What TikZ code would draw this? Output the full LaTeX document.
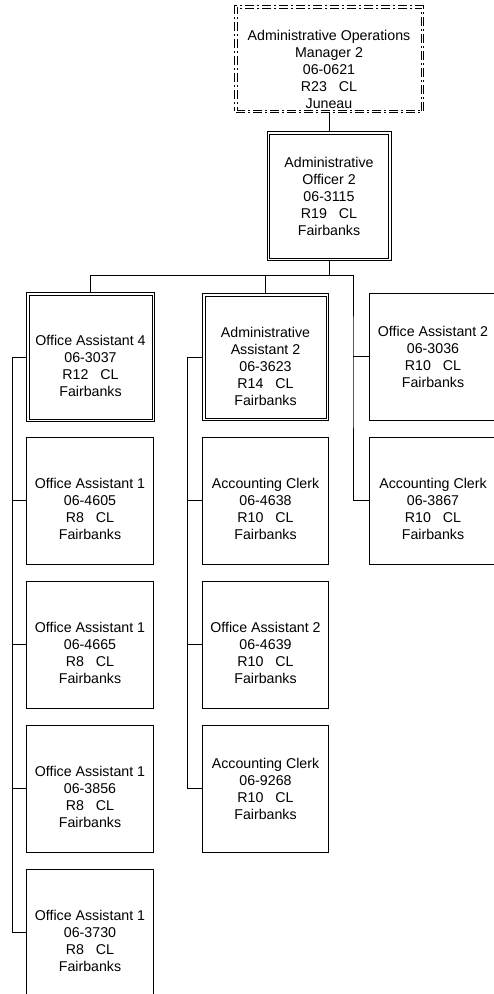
\documentclass[tikz,border=0pt]{standalone}
\usepackage{fontspec}
\setmainfont{Liberation Sans}
\usetikzlibrary{positioning}
\tikzset{
	post/.style={draw, line width=1pt, align=center, inner sep=0pt,
		minimum width=127pt, minimum height=127pt,
		font=\fontsize{14.2pt}{17pt}\selectfont, text height=#1},
	post/.default=77.4pt,
	lead/.style={post=#1, double, double distance=1.5pt},
	lead/.default=79.4pt,
	link/.style={line width=1pt}
}
\begin{document}
\begin{tikzpicture}[x=1pt, y=-1pt, node distance=16pt]
	\useasboundingbox (0,0) rectangle (493,994);
	
	\node [lead=98.4pt, dash pattern=on 9pt off 3pt on 2pt off 3pt,
		minimum width=186.5pt, minimum height=104.5pt] (mgr) at (329,59)
		{Administrative Operations\\Manager 2\\06-0621\\R23\ \ \ CL\\Juneau};
	\node [lead=78.4pt, minimum width=121.5pt, minimum height=126.5pt] (ofc) at (329,196)
		{Administrative\\Officer 2\\06-3115\\R19\ \ \ CL\\Fairbanks};
	
	\node [lead, minimum width=125.5pt, minimum height=126.5pt] (oa4) at (90.5,357)
		{Office Assistant 4\\06-3037\\R12\ \ \ CL\\Fairbanks};
	\node [post] (oa1a) at (90,500.5) {Office Assistant 1\\06-4605\\R8\ \ \ CL\\Fairbanks};
	\node [post, below=of oa1a] (oa1b) {Office Assistant 1\\06-4665\\R8\ \ \ CL\\Fairbanks};
	\node [post, below=of oa1b] (oa1c) {Office Assistant 1\\06-3856\\R8\ \ \ CL\\Fairbanks};
	\node [post, below=of oa1c] (oa1d) {Office Assistant 1\\06-3730\\R8\ \ \ CL\\Fairbanks};
	
	\node [lead=96.4pt, minimum width=123.5pt, minimum height=124.5pt] (aa2) at (265.5,357)
		{Administrative\\Assistant 2\\06-3623\\R14\ \ \ CL\\Fairbanks};
	\node [post, minimum width=126pt] (aca) at (265.5,500.5) {Accounting Clerk\\06-4638\\R10\ \ \ CL\\Fairbanks};
	\node [post, minimum width=126pt, below=of aca] (oa2m) {Office Assistant 2\\06-4639\\R10\ \ \ CL\\Fairbanks};
	\node [post=61.4pt, minimum width=126pt, below=of oa2m] (acb) {Accounting Clerk\\06-9268\\R10\ \ \ CL\\Fairbanks};
	
	\node [post=61.4pt] (oa2r) at (433,356.5) {Office Assistant 2\\06-3036\\R10\ \ \ CL\\Fairbanks};
	\node [post] (acr) at (433,500.5) {Accounting Clerk\\06-3867\\R10\ \ \ CL\\Fairbanks};
	
	\draw [link] (mgr) -- (ofc);
	\draw [link] (ofc.south) -- ++(0,16) coordinate (bus);
	\draw [link] (oa4.north) |- (bus);
	\draw [link] (aa2.north) |- (bus);
	\path (oa2r.west) ++(-16,0) coordinate (rsp);
	\draw [link] (bus) -| (rsp) |- (acr.west);
	\draw [link] (rsp) -- (oa2r.west);
	
	\path (oa4.west) ++(-15,0) coordinate (lsp);
	\draw [link] (oa4.west) -- (lsp) |- (oa1d.west);
	\foreach \n in {oa1a,oa1b,oa1c}
		\draw [link] (\n.west) -- (\n.west -| lsp);
	
	\path (aa2.west) ++(-16,0) coordinate (msp);
	\draw [link] (aa2.west) -- (msp) |- (acb.west);
	\foreach \n in {aca,oa2m}
		\draw [link] (\n.west) -- (\n.west -| msp);
\end{tikzpicture}
\end{document}
